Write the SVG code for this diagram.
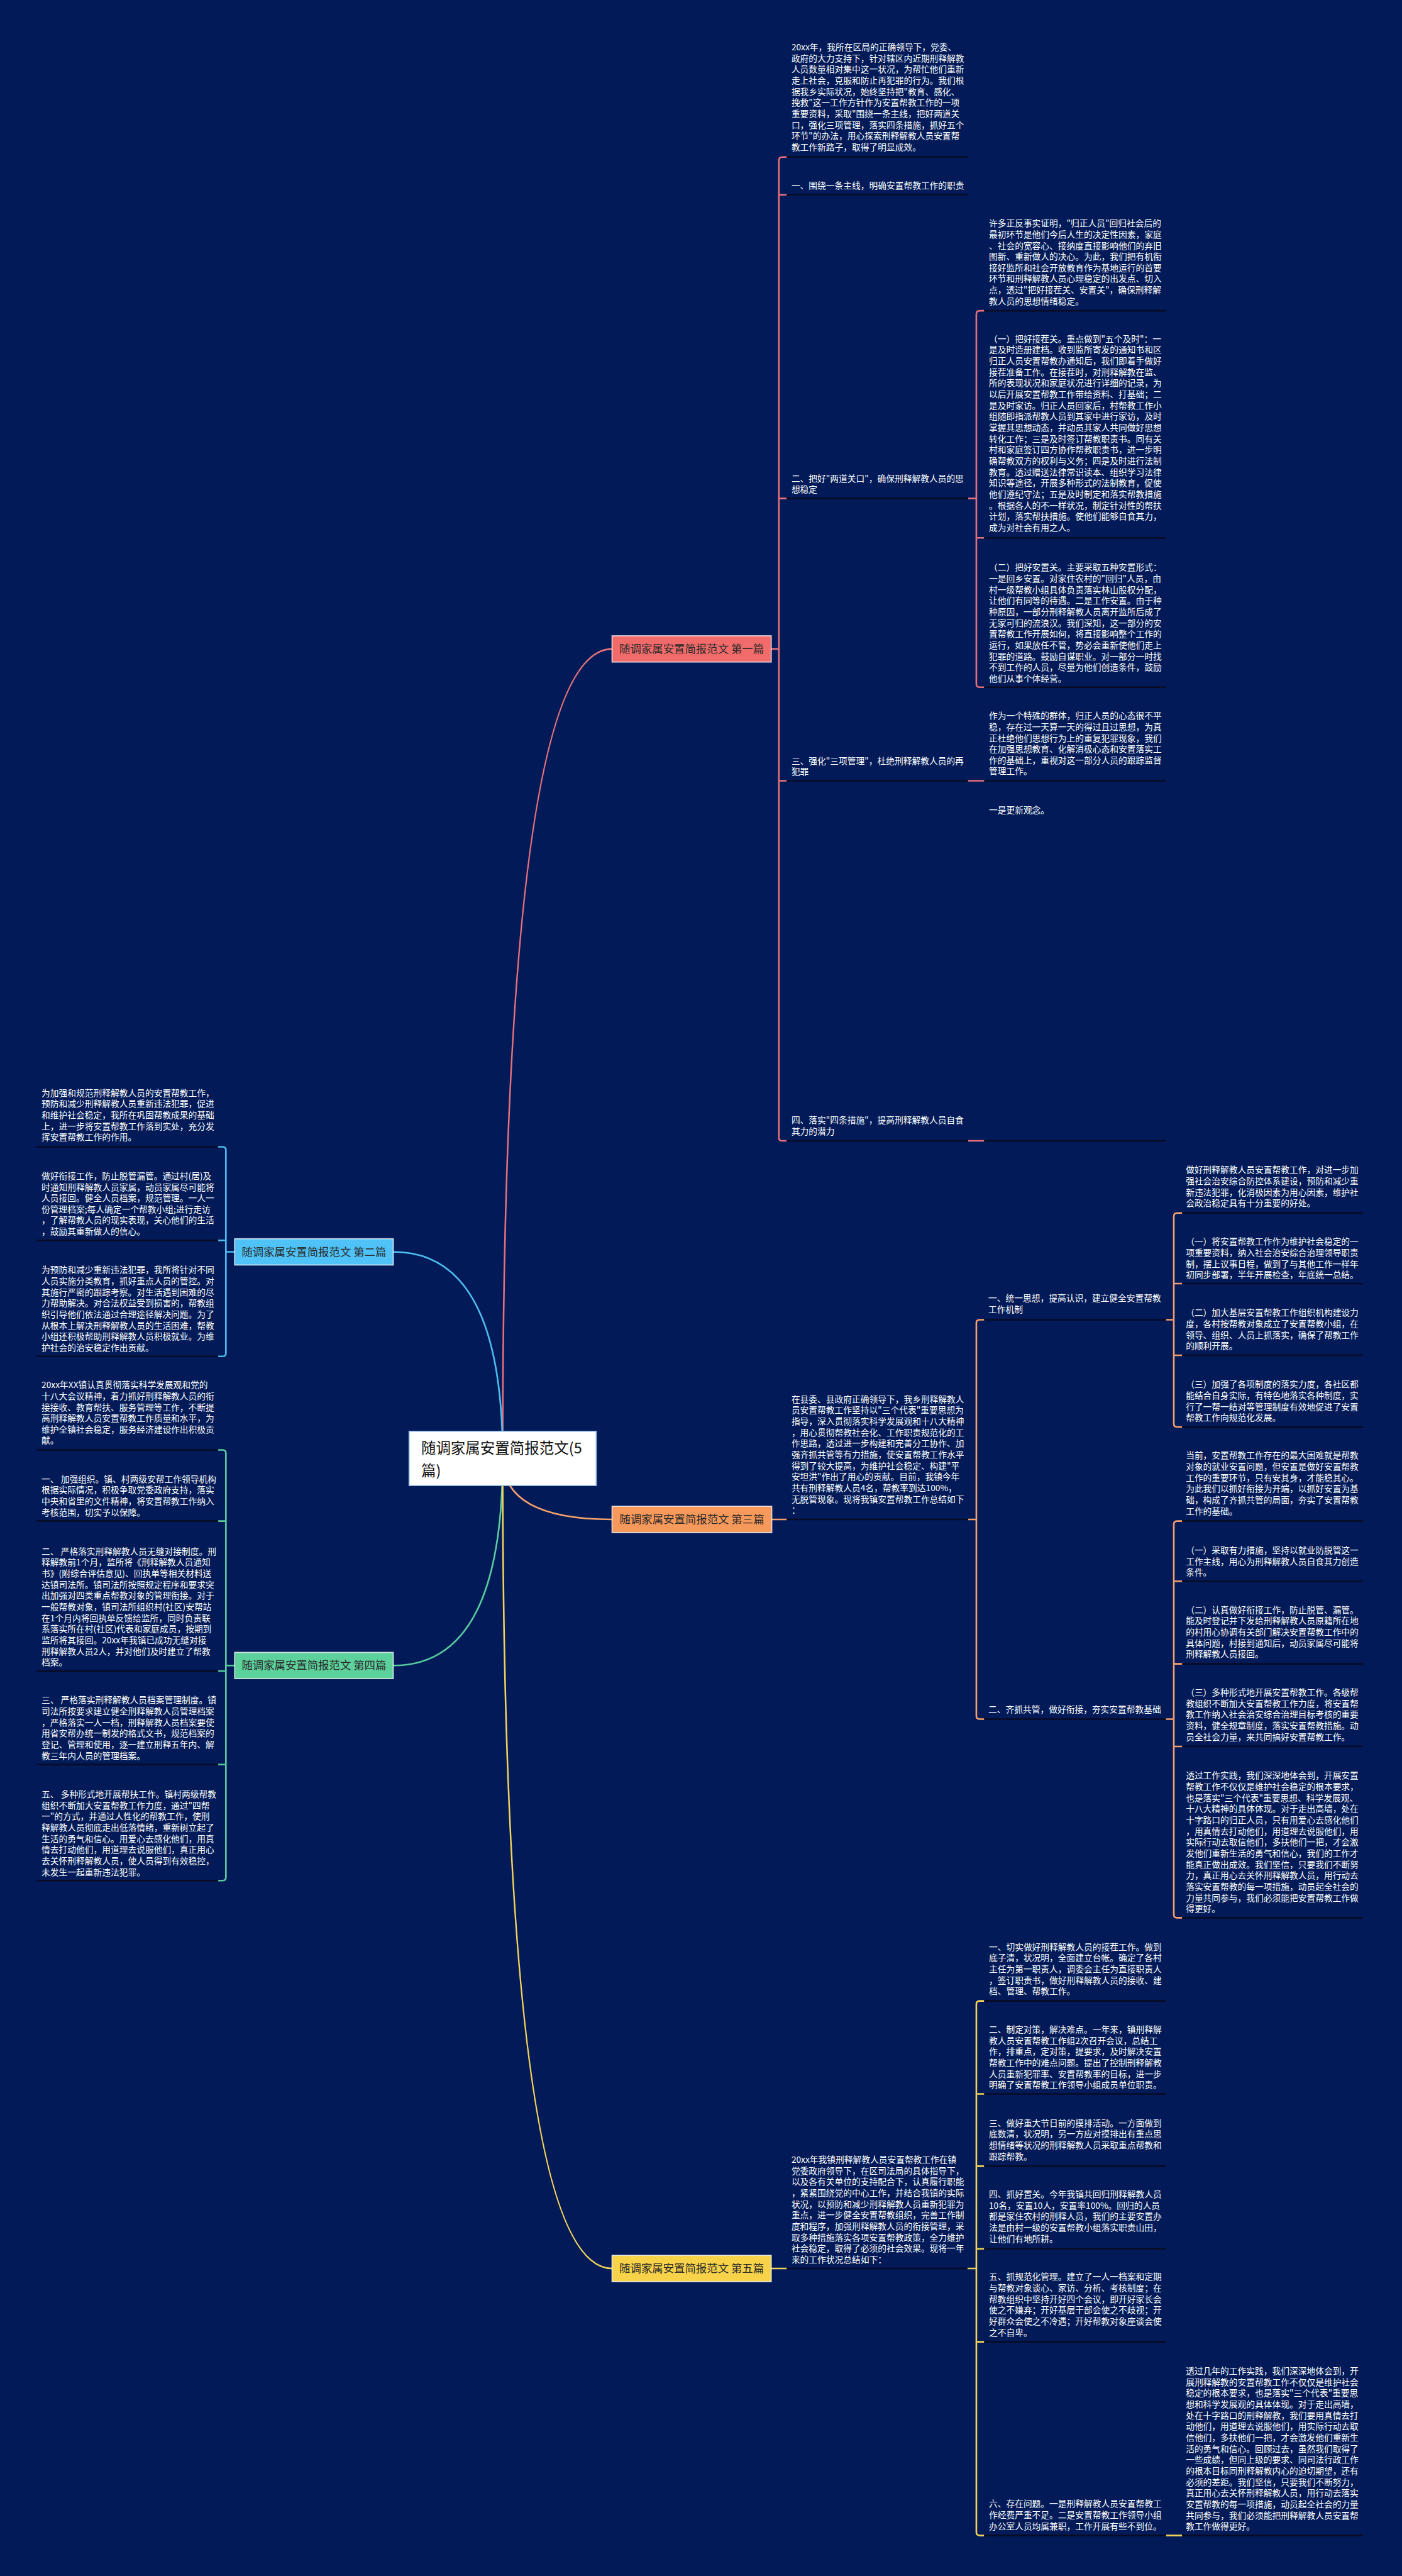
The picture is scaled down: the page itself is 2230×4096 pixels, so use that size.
<svg xmlns="http://www.w3.org/2000/svg" width="2230" height="4096" viewBox="0 0 2230 4096">
<style>
.t{font-family:"Noto Sans CJK SC","Noto Sans",sans-serif;font-size:15.8px;fill:#ffffff}
.lb{font-family:"Noto Sans CJK SC","Noto Sans",sans-serif;font-size:20px;fill:#2a2a2a;text-anchor:middle}
.rt{font-family:"Noto Sans CJK SC","Noto Sans",sans-serif;font-size:27px;fill:#111111}
.ul{stroke:#070b24;stroke-width:3;fill:none}
.c{fill:none;stroke-width:3;stroke-linecap:round}
.red{stroke:#e5707a}.blue{stroke:#4dbdf0}.org{stroke:#f5a06c}.grn{stroke:#57cd9e}.yel{stroke:#f2d35a}
.box{stroke:#ffffff;stroke-opacity:0.75;stroke-width:2}
</style>
<rect x="0" y="0" width="2230" height="4096" fill="#021b58"/>
<g transform="scale(0.87)">
<g id="connectors">
<path class="c red" d="M919 2665 Q919 1186 1119 1186"/>
<path class="c blue" d="M919 2665 Q919 2288 719 2288"/>
<path class="c org" d="M919 2665 Q919 2777 1119 2777"/>
<path class="c grn" d="M919 2665 Q919 3044 719 3044"/>
<path class="c yel" d="M919 2665 Q919 4146 1119 4146"/>
<path class="c red" d="M1438 287 H1430 Q1424 287 1424 293 V2079 Q1424 2085 1430 2085 H1438 M1424 356 H1438 M1424 911 H1438 M1424 1427 H1438 M1410 1186 H1424"/>
<path class="c red" d="M1799 568 H1791 Q1785 568 1785 574 V1250 Q1785 1256 1791 1256 H1799 M1785 983 H1799 M1770 911 H1785"/>
<path class="c red" d="M1770 1427 H1799 M1770 2085 H1799"/>
<path class="c blue" d="M399 2096 H407 Q413 2096 413 2102 V2473 Q413 2479 407 2479 H399 M413 2267 H399 M413 2288 H429"/>
<path class="c grn" d="M399 2650 H407 Q413 2650 413 2656 V3431 Q413 3437 407 3437 H399 M413 2780 H399 M413 3054 H399 M413 3225 H399 M413 3044 H429"/>
<path class="c org" d="M1411 2777 H1438 M1770 2777 H1785 M1799 2412 H1791 Q1785 2412 1785 2418 V3136 Q1785 3142 1791 3142 H1799"/>
<path class="c org" d="M2132 2412 H2146 M2161 2217 H2152 Q2146 2217 2146 2223 V2602 Q2146 2608 2152 2608 H2161 M2146 2346 H2161 M2146 2477 H2161"/>
<path class="c org" d="M2132 3142 H2146 M2161 2780 H2152 Q2146 2780 2146 2786 V3499 Q2146 3505 2152 3505 H2161 M2146 2890 H2161 M2146 3041 H2161 M2146 3192 H2161"/>
<path class="c yel" d="M1410 4146 H1438 M1769 4146 H1785 M1799 3657 H1791 Q1785 3657 1785 3663 V4628 Q1785 4634 1791 4634 H1799 M1785 3827 H1799 M1785 3959 H1799 M1785 4110 H1799 M1785 4280 H1799 M2132 4634 H2161"/>
</g>

<g id="root">
<rect x="748" y="2616" width="342" height="99" fill="#ffffff" stroke="#9fc5e8" stroke-width="2"/>
<text class="rt" x="770" y="2656">随调家属安置简报范文(5</text>
<text class="rt" x="770" y="2698">篇)</text>
</g>

<g id="b1-label"><rect class="box" x="1119" y="1162" width="291" height="48" fill="#f26b6b"/><text class="lb" x="1264.5" y="1193">随调家属安置简报范文 第一篇</text></g>
<g id="b2-label"><rect class="box" x="429" y="2264" width="290" height="48" fill="#4fc3f7"/><text class="lb" x="574" y="2295">随调家属安置简报范文 第二篇</text></g>
<g id="b3-label"><rect class="box" x="1119" y="2753" width="292" height="48" fill="#f7995b"/><text class="lb" x="1265" y="2784">随调家属安置简报范文 第三篇</text></g>
<g id="b4-label"><rect class="box" x="429" y="3020" width="290" height="48" fill="#5dd19c"/><text class="lb" x="574" y="3051">随调家属安置简报范文 第四篇</text></g>
<g id="b5-label"><rect class="box" x="1119" y="4122" width="291" height="48" fill="#f8d34a"/><text class="lb" x="1264.5" y="4153">随调家属安置简报范文 第五篇</text></g>

<g id="b1-intro"><path class="ul" d="M1438 287 H1770"/><text class="t" x="1447" y="92"><tspan x="1447" dy="0">20xx年，我所在区局的正确领导下，党委、</tspan><tspan x="1447" dy="20.3">政府的大力支持下，针对辖区内近期刑释解教</tspan><tspan x="1447" dy="20.3">人员数量相对集中这一状况，为帮忙他们重新</tspan><tspan x="1447" dy="20.3">走上社会，克服和防止再犯罪的行为。我们根</tspan><tspan x="1447" dy="20.3">据我乡实际状况，始终坚持把"教育、感化、</tspan><tspan x="1447" dy="20.3">挽救"这一工作方针作为安置帮教工作的一项</tspan><tspan x="1447" dy="20.3">重要资料，采取"围绕一条主线，把好两道关</tspan><tspan x="1447" dy="20.3">口，强化三项管理，落实四条措施，抓好五个</tspan><tspan x="1447" dy="20.3">环节"的办法，用心探索刑释解教人员安置帮</tspan><tspan x="1447" dy="20.3">教工作新路子，取得了明显成效。</tspan></text></g>
<g id="b1-s1"><path class="ul" d="M1438 356 H1770"/><text class="t" x="1447" y="345">一、围绕一条主线，明确安置帮教工作的职责</text></g>
<g id="b1-s2"><path class="ul" d="M1438 911 H1770"/><text class="t" x="1447" y="880"><tspan x="1447" dy="0">二、把好"两道关口"，确保刑释解教人员的思</tspan><tspan x="1447" dy="20.3">想稳定</tspan></text></g>
<g id="b1-s2-a"><path class="ul" d="M1799 568 H2132"/><text class="t" x="1808" y="414"><tspan x="1808" dy="0">许多正反事实证明，"归正人员"回归社会后的</tspan><tspan x="1808" dy="20.3">最初环节是他们今后人生的决定性因素，家庭</tspan><tspan x="1808" dy="20.3">、社会的宽容心、接纳度直接影响他们的弃旧</tspan><tspan x="1808" dy="20.3">图新、重新做人的决心。为此，我们把有机衔</tspan><tspan x="1808" dy="20.3">接好监所和社会开放教育作为基地运行的首要</tspan><tspan x="1808" dy="20.3">环节和刑释解教人员心理稳定的出发点、切入</tspan><tspan x="1808" dy="20.3">点，透过"把好接茬关、安置关"，确保刑释解</tspan><tspan x="1808" dy="20.3">教人员的思想情绪稳定。</tspan></text></g>
<g id="b1-s2-b"><path class="ul" d="M1799 983 H2132"/><text class="t" x="1808" y="625"><tspan x="1808" dy="0">（一）把好接茬关。重点做到"五个及时"：一</tspan><tspan x="1808" dy="20.3">是及时造册建档。收到监所寄发的通知书和区</tspan><tspan x="1808" dy="20.3">归正人员安置帮教办通知后，我们即着手做好</tspan><tspan x="1808" dy="20.3">接茬准备工作。在接茬时，对刑释解教在监、</tspan><tspan x="1808" dy="20.3">所的表现状况和家庭状况进行详细的记录，为</tspan><tspan x="1808" dy="20.3">以后开展安置帮教工作带给资料、打基础；二</tspan><tspan x="1808" dy="20.3">是及时家访。归正人员回家后，村帮教工作小</tspan><tspan x="1808" dy="20.3">组随即指派帮教人员到其家中进行家访，及时</tspan><tspan x="1808" dy="20.3">掌握其思想动态，并动员其家人共同做好思想</tspan><tspan x="1808" dy="20.3">转化工作；三是及时签订帮教职责书。同有关</tspan><tspan x="1808" dy="20.3">村和家庭签订四方协作帮教职责书，进一步明</tspan><tspan x="1808" dy="20.3">确帮教双方的权利与义务；四是及时进行法制</tspan><tspan x="1808" dy="20.3">教育。透过赠送法律常识读本、组织学习法律</tspan><tspan x="1808" dy="20.3">知识等途径，开展多种形式的法制教育，促使</tspan><tspan x="1808" dy="20.3">他们遵纪守法；五是及时制定和落实帮教措施</tspan><tspan x="1808" dy="20.3">。根据各人的不一样状况，制定针对性的帮扶</tspan><tspan x="1808" dy="20.3">计划，落实帮扶措施。使他们能够自食其力，</tspan><tspan x="1808" dy="20.3">成为对社会有用之人。</tspan></text></g>
<g id="b1-s2-c"><path class="ul" d="M1799 1256 H2132"/><text class="t" x="1808" y="1043"><tspan x="1808" dy="0">（二）把好安置关。主要采取五种安置形式：</tspan><tspan x="1808" dy="20.3">一是回乡安置。对家住农村的"回归"人员，由</tspan><tspan x="1808" dy="20.3">村一级帮教小组具体负责落实林山股权分配，</tspan><tspan x="1808" dy="20.3">让他们有同等的待遇。二是工作安置。由于种</tspan><tspan x="1808" dy="20.3">种原因，一部分刑释解教人员离开监所后成了</tspan><tspan x="1808" dy="20.3">无家可归的流浪汉。我们深知，这一部分的安</tspan><tspan x="1808" dy="20.3">置帮教工作开展如何，将直接影响整个工作的</tspan><tspan x="1808" dy="20.3">运行，如果放任不管，势必会重新使他们走上</tspan><tspan x="1808" dy="20.3">犯罪的道路。鼓励自谋职业。对一部分一时找</tspan><tspan x="1808" dy="20.3">不到工作的人员，尽量为他们创造条件，鼓励</tspan><tspan x="1808" dy="20.3">他们从事个体经营。</tspan></text></g>
<g id="b1-s3"><path class="ul" d="M1438 1427 H1770"/><text class="t" x="1447" y="1396"><tspan x="1447" dy="0">三、强化"三项管理"，杜绝刑释解教人员的再</tspan><tspan x="1447" dy="20.3">犯罪</tspan></text></g>
<g id="b1-s3-a"><path class="ul" d="M1799 1427 H2132"/><text class="t" x="1808" y="1314"><tspan x="1808" dy="0">作为一个特殊的群体，归正人员的心态很不平</tspan><tspan x="1808" dy="20.3">稳，存在过一天算一天的得过且过思想，为真</tspan><tspan x="1808" dy="20.3">正杜绝他们思想行为上的重复犯罪现象，我们</tspan><tspan x="1808" dy="20.3">在加强思想教育、化解消极心态和安置落实工</tspan><tspan x="1808" dy="20.3">作的基础上，重视对这一部分人员的跟踪监督</tspan><tspan x="1808" dy="20.3">管理工作。</tspan></text></g>
<g id="b1-s4"><path class="ul" d="M1438 2085 H1770"/><text class="t" x="1447" y="2053"><tspan x="1447" dy="0">四、落实"四条措施"，提高刑释解教人员自食</tspan><tspan x="1447" dy="20.3">其力的潜力</tspan></text></g>
<g id="b1-s4-a"><path class="ul" d="M1799 2085 H2132"/><text class="t" x="1808" y="1486"><tspan x="1808" dy="0">一是更新观念。</tspan></text></g>

<g id="b2-a"><path class="ul" d="M67 2096 H399"/><text class="t" x="76" y="2003"><tspan x="76" dy="0">为加强和规范刑释解教人员的安置帮教工作，</tspan><tspan x="76" dy="20.3">预防和减少刑释解教人员重新违法犯罪，促进</tspan><tspan x="76" dy="20.3">和维护社会稳定，我所在巩固帮教成果的基础</tspan><tspan x="76" dy="20.3">上，进一步将安置帮教工作落到实处，充分发</tspan><tspan x="76" dy="20.3">挥安置帮教工作的作用。</tspan></text></g>
<g id="b2-b"><path class="ul" d="M67 2267 H399"/><text class="t" x="76" y="2155"><tspan x="76" dy="0">做好衔接工作，防止脱管漏管。通过村(居)及</tspan><tspan x="76" dy="20.3">时通知刑释解教人员家属，动员家属尽可能将</tspan><tspan x="76" dy="20.3">人员接回。健全人员档案，规范管理。一人一</tspan><tspan x="76" dy="20.3">份管理档案;每人确定一个帮教小组;进行走访</tspan><tspan x="76" dy="20.3">，了解帮教人员的现实表现，关心他们的生活</tspan><tspan x="76" dy="20.3">，鼓励其重新做人的信心。</tspan></text></g>
<g id="b2-c"><path class="ul" d="M67 2479 H399"/><text class="t" x="76" y="2327"><tspan x="76" dy="0">为预防和减少重新违法犯罪，我所将针对不同</tspan><tspan x="76" dy="20.3">人员实施分类教育，抓好重点人员的管控。对</tspan><tspan x="76" dy="20.3">其施行严密的跟踪考察。对生活遇到困难的尽</tspan><tspan x="76" dy="20.3">力帮助解决。对合法权益受到损害的，帮教组</tspan><tspan x="76" dy="20.3">织引导他们依法通过合理途径解决问题。为了</tspan><tspan x="76" dy="20.3">从根本上解决刑释解教人员的生活困难，帮教</tspan><tspan x="76" dy="20.3">小组还积极帮助刑释解教人员积极就业。为维</tspan><tspan x="76" dy="20.3">护社会的治安稳定作出贡献。</tspan></text></g>

<g id="b4-a"><path class="ul" d="M67 2650 H399"/><text class="t" x="76" y="2537"><tspan x="76" dy="0">20xx年XX镇认真贯彻落实科学发展观和党的</tspan><tspan x="76" dy="20.3">十八大会议精神，着力抓好刑释解教人员的衔</tspan><tspan x="76" dy="20.3">接接收、教育帮扶、服务管理等工作，不断提</tspan><tspan x="76" dy="20.3">高刑释解教人员安置帮教工作质量和水平，为</tspan><tspan x="76" dy="20.3">维护全镇社会稳定，服务经济建设作出积极贡</tspan><tspan x="76" dy="20.3">献。</tspan></text></g>
<g id="b4-b"><path class="ul" d="M67 2780 H399"/><text class="t" x="76" y="2709"><tspan x="76" dy="0">一、 加强组织。镇、村两级安帮工作领导机构</tspan><tspan x="76" dy="20.3">根据实际情况，积极争取党委政府支持，落实</tspan><tspan x="76" dy="20.3">中央和省里的文件精神，将安置帮教工作纳入</tspan><tspan x="76" dy="20.3">考核范围，切实予以保障。</tspan></text></g>
<g id="b4-c"><path class="ul" d="M67 3054 H399"/><text class="t" x="76" y="2841"><tspan x="76" dy="0">二、 严格落实刑释解教人员无缝对接制度。刑</tspan><tspan x="76" dy="20.3">释解教前1个月，监所将《刑释解教人员通知</tspan><tspan x="76" dy="20.3">书》(附综合评估意见)、回执单等相关材料送</tspan><tspan x="76" dy="20.3">达镇司法所。镇司法所按照规定程序和要求突</tspan><tspan x="76" dy="20.3">出加强对四类重点帮教对象的管理衔接。对于</tspan><tspan x="76" dy="20.3">一般帮教对象，镇司法所组织村(社区)安帮站</tspan><tspan x="76" dy="20.3">在1个月内将回执单反馈给监所，同时负责联</tspan><tspan x="76" dy="20.3">系落实所在村(社区)代表和家庭成员，按期到</tspan><tspan x="76" dy="20.3">监所将其接回。20xx年我镇已成功无缝对接</tspan><tspan x="76" dy="20.3">刑释解教人员2人，并对他们及时建立了帮教</tspan><tspan x="76" dy="20.3">档案。</tspan></text></g>
<g id="b4-d"><path class="ul" d="M67 3225 H399"/><text class="t" x="76" y="3113"><tspan x="76" dy="0">三、 严格落实刑释解教人员档案管理制度。镇</tspan><tspan x="76" dy="20.3">司法所按要求建立健全刑释解教人员管理档案</tspan><tspan x="76" dy="20.3">，严格落实一人一档，刑释解教人员档案要使</tspan><tspan x="76" dy="20.3">用省安帮办统一制发的格式文书，规范档案的</tspan><tspan x="76" dy="20.3">登记、管理和使用，逐一建立刑释五年内、解</tspan><tspan x="76" dy="20.3">教三年内人员的管理档案。</tspan></text></g>
<g id="b4-e"><path class="ul" d="M67 3437 H399"/><text class="t" x="76" y="3285"><tspan x="76" dy="0">五、 多种形式地开展帮扶工作。镇村两级帮教</tspan><tspan x="76" dy="20.3">组织不断加大安置帮教工作力度，通过"四帮</tspan><tspan x="76" dy="20.3">一"的方式，并通过人性化的帮教工作，使刑</tspan><tspan x="76" dy="20.3">释解教人员彻底走出低落情绪，重新树立起了</tspan><tspan x="76" dy="20.3">生活的勇气和信心。用爱心去感化他们，用真</tspan><tspan x="76" dy="20.3">情去打动他们，用道理去说服他们，真正用心</tspan><tspan x="76" dy="20.3">去关怀刑释解教人员，使人员得到有效稳控，</tspan><tspan x="76" dy="20.3">未发生一起重新违法犯罪。</tspan></text></g>

<g id="b3-intro"><path class="ul" d="M1438 2777 H1770"/><text class="t" x="1447" y="2563"><tspan x="1447" dy="0">在县委、县政府正确领导下，我乡刑释解教人</tspan><tspan x="1447" dy="20.3">员安置帮教工作坚持以"三个代表"重要思想为</tspan><tspan x="1447" dy="20.3">指导，深入贯彻落实科学发展观和十八大精神</tspan><tspan x="1447" dy="20.3">，用心贯彻帮教社会化、工作职责规范化的工</tspan><tspan x="1447" dy="20.3">作思路，透过进一步构建和完善分工协作、加</tspan><tspan x="1447" dy="20.3">强齐抓共管等有力措施，使安置帮教工作水平</tspan><tspan x="1447" dy="20.3">得到了较大提高，为维护社会稳定、构建"平</tspan><tspan x="1447" dy="20.3">安坦洪"作出了用心的贡献。目前，我镇今年</tspan><tspan x="1447" dy="20.3">共有刑释解教人员4名，帮教率到达100%，</tspan><tspan x="1447" dy="20.3">无脱管现象。现将我镇安置帮教工作总结如下</tspan><tspan x="1447" dy="20.3">：</tspan></text></g>
<g id="b3-s1"><path class="ul" d="M1799 2412 H2132"/><text class="t" x="1807" y="2378"><tspan x="1807" dy="0">一、统一思想，提高认识，建立健全安置帮教</tspan><tspan x="1807" dy="20.3">工作机制</tspan></text></g>
<g id="b3-s1-a"><path class="ul" d="M2161 2217 H2492"/><text class="t" x="2168" y="2144"><tspan x="2168" dy="0">做好刑释解教人员安置帮教工作，对进一步加</tspan><tspan x="2168" dy="20.3">强社会治安综合防控体系建设，预防和减少重</tspan><tspan x="2168" dy="20.3">新违法犯罪，化消极因素为用心因素，维护社</tspan><tspan x="2168" dy="20.3">会政治稳定具有十分重要的好处。</tspan></text></g>
<g id="b3-s1-b"><path class="ul" d="M2161 2346 H2492"/><text class="t" x="2168" y="2275"><tspan x="2168" dy="0">（一）将安置帮教工作作为维护社会稳定的一</tspan><tspan x="2168" dy="20.3">项重要资料，纳入社会治安综合治理领导职责</tspan><tspan x="2168" dy="20.3">制，摆上议事日程，做到了与其他工作一样年</tspan><tspan x="2168" dy="20.3">初同步部署，半年开展检查，年底统一总结。</tspan></text></g>
<g id="b3-s1-c"><path class="ul" d="M2161 2477 H2492"/><text class="t" x="2168" y="2405"><tspan x="2168" dy="0">（二）加大基层安置帮教工作组织机构建设力</tspan><tspan x="2168" dy="20.3">度，各村按帮教对象成立了安置帮教小组，在</tspan><tspan x="2168" dy="20.3">领导、组织、人员上抓落实，确保了帮教工作</tspan><tspan x="2168" dy="20.3">的顺利开展。</tspan></text></g>
<g id="b3-s1-d"><path class="ul" d="M2161 2608 H2492"/><text class="t" x="2168" y="2536"><tspan x="2168" dy="0">（三）加强了各项制度的落实力度，各社区都</tspan><tspan x="2168" dy="20.3">能结合自身实际，有特色地落实各种制度，实</tspan><tspan x="2168" dy="20.3">行了一帮一结对等管理制度有效地促进了安置</tspan><tspan x="2168" dy="20.3">帮教工作向规范化发展。</tspan></text></g>
<g id="b3-s2"><path class="ul" d="M1799 3142 H2132"/><text class="t" x="1807" y="3130">二、齐抓共管，做好衔接，夯实安置帮教基础</text></g>
<g id="b3-s2-a"><path class="ul" d="M2161 2780 H2492"/><text class="t" x="2168" y="2666"><tspan x="2168" dy="0">当前，安置帮教工作存在的最大困难就是帮教</tspan><tspan x="2168" dy="20.3">对象的就业安置问题，但安置是做好安置帮教</tspan><tspan x="2168" dy="20.3">工作的重要环节，只有安其身，才能稳其心。</tspan><tspan x="2168" dy="20.3">为此我们以抓好衔接为开端，以抓好安置为基</tspan><tspan x="2168" dy="20.3">础，构成了齐抓共管的局面，夯实了安置帮教</tspan><tspan x="2168" dy="20.3">工作的基础。</tspan></text></g>
<g id="b3-s2-b"><path class="ul" d="M2161 2890 H2492"/><text class="t" x="2168" y="2839"><tspan x="2168" dy="0">（一）采取有力措施，坚持以就业防脱管这一</tspan><tspan x="2168" dy="20.3">工作主线，用心为刑释解教人员自食其力创造</tspan><tspan x="2168" dy="20.3">条件。</tspan></text></g>
<g id="b3-s2-c"><path class="ul" d="M2161 3041 H2492"/><text class="t" x="2168" y="2948"><tspan x="2168" dy="0">（二）认真做好衔接工作，防止脱管、漏管。</tspan><tspan x="2168" dy="20.3">能及时登记并下发给刑释解教人员原籍所在地</tspan><tspan x="2168" dy="20.3">的村用心协调有关部门解决安置帮教工作中的</tspan><tspan x="2168" dy="20.3">具体问题，村接到通知后，动员家属尽可能将</tspan><tspan x="2168" dy="20.3">刑释解教人员接回。</tspan></text></g>
<g id="b3-s2-d"><path class="ul" d="M2161 3192 H2492"/><text class="t" x="2168" y="3099"><tspan x="2168" dy="0">（三）多种形式地开展安置帮教工作。各级帮</tspan><tspan x="2168" dy="20.3">教组织不断加大安置帮教工作力度，将安置帮</tspan><tspan x="2168" dy="20.3">教工作纳入社会治安综合治理目标考核的重要</tspan><tspan x="2168" dy="20.3">资料，健全规章制度，落实安置帮教措施。动</tspan><tspan x="2168" dy="20.3">员全社会力量，来共同搞好安置帮教工作。</tspan></text></g>
<g id="b3-s2-e"><path class="ul" d="M2161 3505 H2492"/><text class="t" x="2168" y="3251"><tspan x="2168" dy="0">透过工作实践，我们深深地体会到，开展安置</tspan><tspan x="2168" dy="20.3">帮教工作不仅仅是维护社会稳定的根本要求，</tspan><tspan x="2168" dy="20.3">也是落实"三个代表"重要思想、科学发展观、</tspan><tspan x="2168" dy="20.3">十八大精神的具体体现。对于走出高墙，处在</tspan><tspan x="2168" dy="20.3">十字路口的归正人员，只有用爱心去感化他们</tspan><tspan x="2168" dy="20.3">，用真情去打动他们，用道理去说服他们，用</tspan><tspan x="2168" dy="20.3">实际行动去取信他们，多扶他们一把，才会激</tspan><tspan x="2168" dy="20.3">发他们重新生活的勇气和信心，我们的工作才</tspan><tspan x="2168" dy="20.3">能真正做出成效。我们坚信，只要我们不断努</tspan><tspan x="2168" dy="20.3">力，真正用心去关怀刑释解教人员，用行动去</tspan><tspan x="2168" dy="20.3">落实安置帮教的每一项措施，动员起全社会的</tspan><tspan x="2168" dy="20.3">力量共同参与，我们必须能把安置帮教工作做</tspan><tspan x="2168" dy="20.3">得更好。</tspan></text></g>

<g id="b5-intro"><path class="ul" d="M1438 4146 H1769"/><text class="t" x="1447" y="3953"><tspan x="1447" dy="0">20xx年我镇刑释解教人员安置帮教工作在镇</tspan><tspan x="1447" dy="20.3">党委政府领导下，在区司法局的具体指导下，</tspan><tspan x="1447" dy="20.3">以及各有关单位的支持配合下，认真履行职能</tspan><tspan x="1447" dy="20.3">，紧紧围绕党的中心工作，并结合我镇的实际</tspan><tspan x="1447" dy="20.3">状况，以预防和减少刑释解教人员重新犯罪为</tspan><tspan x="1447" dy="20.3">重点，进一步健全安置帮教组织，完善工作制</tspan><tspan x="1447" dy="20.3">度和程序，加强刑释解教人员的衔接管理，采</tspan><tspan x="1447" dy="20.3">取多种措施落实各项安置帮教政策，全力维护</tspan><tspan x="1447" dy="20.3">社会稳定，取得了必须的社会效果。现将一年</tspan><tspan x="1447" dy="20.3">来的工作状况总结如下：</tspan></text></g>
<g id="b5-s1"><path class="ul" d="M1799 3657 H2132"/><text class="t" x="1808" y="3564"><tspan x="1808" dy="0">一、切实做好刑释解教人员的接茬工作。做到</tspan><tspan x="1808" dy="20.3">底子清，状况明，全面建立台帐。确定了各村</tspan><tspan x="1808" dy="20.3">主任为第一职责人，调委会主任为直接职责人</tspan><tspan x="1808" dy="20.3">，签订职责书，做好刑释解教人员的接收、建</tspan><tspan x="1808" dy="20.3">档、管理、帮教工作。</tspan></text></g>
<g id="b5-s2"><path class="ul" d="M1799 3827 H2132"/><text class="t" x="1808" y="3715"><tspan x="1808" dy="0">二、制定对策，解决难点。一年来，镇刑释解</tspan><tspan x="1808" dy="20.3">教人员安置帮教工作组2次召开会议，总结工</tspan><tspan x="1808" dy="20.3">作，排重点，定对策，提要求，及时解决安置</tspan><tspan x="1808" dy="20.3">帮教工作中的难点问题。提出了控制刑释解教</tspan><tspan x="1808" dy="20.3">人员重新犯罪率、安置帮教率的目标，进一步</tspan><tspan x="1808" dy="20.3">明确了安置帮教工作领导小组成员单位职责。</tspan></text></g>
<g id="b5-s3"><path class="ul" d="M1799 3959 H2132"/><text class="t" x="1808" y="3886"><tspan x="1808" dy="0">三、做好重大节日前的摸排活动。一方面做到</tspan><tspan x="1808" dy="20.3">底数清，状况明，另一方应对摸排出有重点思</tspan><tspan x="1808" dy="20.3">想情绪等状况的刑释解教人员采取重点帮教和</tspan><tspan x="1808" dy="20.3">跟踪帮教。</tspan></text></g>
<g id="b5-s4"><path class="ul" d="M1799 4110 H2132"/><text class="t" x="1808" y="4016"><tspan x="1808" dy="0">四、抓好置关。今年我镇共回归刑释解教人员</tspan><tspan x="1808" dy="20.3">10名，安置10人，安置率100%。回归的人员</tspan><tspan x="1808" dy="20.3">都是家住农村的刑释人员，我们的主要安置办</tspan><tspan x="1808" dy="20.3">法是由村一级的安置帮教小组落实职责山田，</tspan><tspan x="1808" dy="20.3">让他们有地所耕。</tspan></text></g>
<g id="b5-s5"><path class="ul" d="M1799 4280 H2132"/><text class="t" x="1808" y="4167"><tspan x="1808" dy="0">五、抓规范化管理。建立了一人一档案和定期</tspan><tspan x="1808" dy="20.3">与帮教对象谈心、家访、分析、考核制度；在</tspan><tspan x="1808" dy="20.3">帮教组织中坚持开好四个会议，即开好家长会</tspan><tspan x="1808" dy="20.3">使之不嫌弃；开好基层干部会使之不歧视；开</tspan><tspan x="1808" dy="20.3">好群众会使之不冷遇；开好帮教对象座谈会使</tspan><tspan x="1808" dy="20.3">之不自卑。</tspan></text></g>
<g id="b5-s6"><path class="ul" d="M1799 4634 H2132"/><text class="t" x="1808" y="4582"><tspan x="1808" dy="0">六、存在问题。一是刑释解教人员安置帮教工</tspan><tspan x="1808" dy="20.3">作经费严重不足。二是安置帮教工作领导小组</tspan><tspan x="1808" dy="20.3">办公室人员均属兼职，工作开展有些不到位。</tspan></text></g>
<g id="b5-s6-a"><path class="ul" d="M2161 4634 H2492"/><text class="t" x="2168" y="4339"><tspan x="2168" dy="0">透过几年的工作实践，我们深深地体会到，开</tspan><tspan x="2168" dy="20.3">展刑释解教的安置帮教工作不仅仅是维护社会</tspan><tspan x="2168" dy="20.3">稳定的根本要求，也是落实"三个代表"重要思</tspan><tspan x="2168" dy="20.3">想和科学发展观的具体体现。对于走出高墙，</tspan><tspan x="2168" dy="20.3">处在十字路口的刑释解教，我们要用真情去打</tspan><tspan x="2168" dy="20.3">动他们，用道理去说服他们，用实际行动去取</tspan><tspan x="2168" dy="20.3">信他们，多扶他们一把，才会激发他们重新生</tspan><tspan x="2168" dy="20.3">活的勇气和信心。回顾过去，虽然我们取得了</tspan><tspan x="2168" dy="20.3">一些成绩，但同上级的要求、同司法行政工作</tspan><tspan x="2168" dy="20.3">的根本目标同刑释解教内心的迫切期望，还有</tspan><tspan x="2168" dy="20.3">必须的差距。我们坚信，只要我们不断努力，</tspan><tspan x="2168" dy="20.3">真正用心去关怀刑释解教人员，用行动去落实</tspan><tspan x="2168" dy="20.3">安置帮教的每一项措施，动员起全社会的力量</tspan><tspan x="2168" dy="20.3">共同参与，我们必须能把刑释解教人员安置帮</tspan><tspan x="2168" dy="20.3">教工作做得更好。</tspan></text></g>
</g>
</svg>
